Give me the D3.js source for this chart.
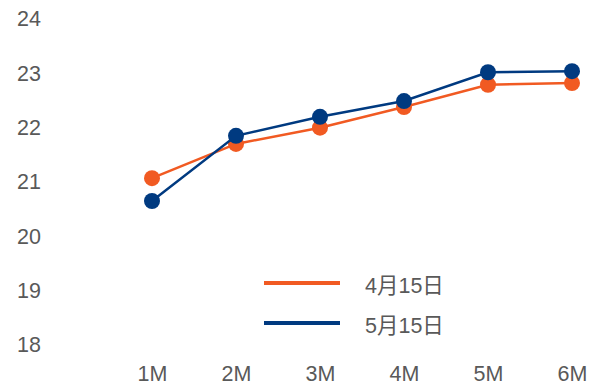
<!DOCTYPE html>
<html>
<head>
<meta charset="utf-8">
<script src="https://cdn.jsdelivr.net/npm/d3@7"></script>
<style>
  body { margin: 0; background: #fff; }
  text { font-family: "Liberation Sans", Arial, sans-serif; fill: #595959; }
</style>
</head>
<body>
<div id="main-container"></div>
<script>
const WIDTH = 592;
const HEIGHT = 389;
const FONT_SIZE = '21.5px';

const CATEGORIES = ['1M', '2M', '3M', '4M', '5M', '6M'];
const SERIES_NAMES = ['4月15日', '5月15日'];
const APR_VALUES = [21.07, 21.70, 22.00, 22.38, 22.79, 22.82];
const MAY_VALUES = [20.65, 21.85, 22.20, 22.49, 23.02, 23.04];
const Y_TICKS = [18, 19, 20, 21, 22, 23, 24];
const COLORS = ['#F15A22', '#003A80'];

const SVG = d3.select('#main-container')
  .append('svg')
  .attr('width', WIDTH)
  .attr('height', HEIGHT);

const X_SCALE = d3.scalePoint()
  .domain(CATEGORIES)
  .range([152, 572]);

const Y_SCALE = d3.scaleLinear()
  .domain([18, 24])
  .range([345, 19]);

// y axis labels only
const yAxis = SVG.append('g')
  .attr('transform', 'translate(41,0)')
  .call(d3.axisLeft(Y_SCALE).tickValues(Y_TICKS).tickFormat(d3.format('d')).tickSize(0).tickPadding(0));
yAxis.select('.domain').remove();
yAxis.selectAll('text')
  .style('font-size', FONT_SIZE)
  .attr('fill', '#595959');

// x axis labels only
const xAxis = SVG.append('g')
  .attr('transform', 'translate(0,366)')
  .call(d3.axisBottom(X_SCALE).tickSize(0).tickPadding(0));
xAxis.select('.domain').remove();
xAxis.selectAll('text')
  .style('font-size', FONT_SIZE)
  .attr('fill', '#595959');

const SERIES = [APR_VALUES, MAY_VALUES];
const line = d3.line()
  .x((d, i) => X_SCALE(CATEGORIES[i]))
  .y(d => Y_SCALE(d));

SERIES.forEach((values, s) => {
  const g = SVG.append('g');
  g.append('path')
    .datum(values)
    .attr('d', line)
    .attr('fill', 'none')
    .attr('stroke', COLORS[s])
    .attr('stroke-width', 2.5);
  g.selectAll('circle')
    .data(values)
    .enter()
    .append('circle')
    .attr('cx', (d, i) => X_SCALE(CATEGORIES[i]))
    .attr('cy', d => Y_SCALE(d))
    .attr('r', 8)
    .attr('fill', COLORS[s]);
});

// legend
const legend = SVG.append('g').attr('transform', 'translate(264,283)');
SERIES_NAMES.forEach((name, i) => {
  legend.append('line')
    .attr('x1', 0).attr('x2', 76)
    .attr('y1', i * 40).attr('y2', i * 40)
    .attr('stroke', COLORS[i])
    .attr('stroke-width', 4);
  legend.append('text')
    .attr('x', 101)
    .attr('y', i * 40 + 2)
    .attr('dy', '0.35em')
    .style('font-size', FONT_SIZE)
    .style('font-family', '"Liberation Sans", "Noto Sans CJK SC", sans-serif')
    .text(name);
});
</script>
</body>
</html>
